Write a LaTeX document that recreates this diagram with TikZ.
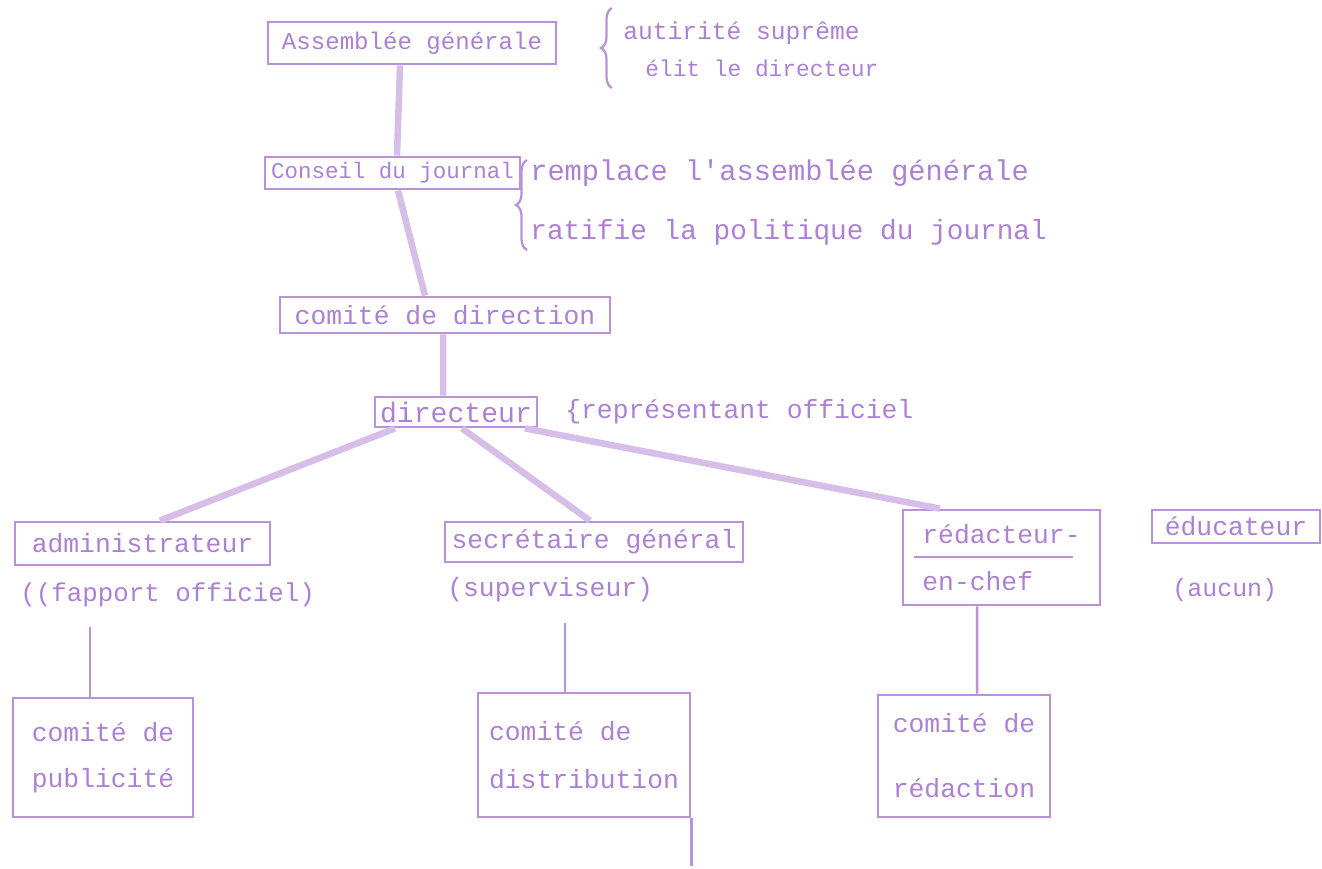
\documentclass[tikz,border=0pt]{standalone}
\usepackage{fontspec}
\setmonofont{Liberation Mono}
\usetikzlibrary{calc,decorations.pathreplacing}
\definecolor{ink}{RGB}{186,146,218}
\definecolor{inktext}{RGB}{172,128,210}
\tikzset{
  typed/.style={font=\fontsize{#1}{18pt}\selectfont\ttfamily},
  typed/.default=15pt,
  unit/.style={draw=ink, line width=0.55mm, text=inktext, typed, inner sep=0pt},
  remark/.style={text=inktext, typed, anchor=west, inner sep=0pt},
  link/.style={draw=ink!60, line width=1.3mm},
  thinlink/.style={draw=ink, line width=0.5mm},
  curly/.style={draw=ink, line width=0.45mm, decorate, decoration={brace, amplitude=2.2mm}},
}

\begin{document}
\begin{tikzpicture}[x=0.2mm, y=-0.2mm]
\useasboundingbox (0,0) rectangle (1322,869);

% organes
\node[unit, typed=13.7pt, minimum width=57.6mm, minimum height=8.4mm] (assemblee) at (412,43) {Assemblée générale};
\node[unit, typed=12.8pt, minimum width=51mm, minimum height=6.4mm] (conseil) at (392.5,173) {Conseil du journal};
\node[unit, minimum width=66mm, minimum height=7.2mm] (comitedir) at (445,315) {comité de direction};
\node[unit, typed=16pt, minimum width=32.4mm, minimum height=6mm] (directeur) at (456,412) {directeur};

\node[unit, minimum width=51mm, minimum height=8.6mm] (admin) at (142.5,543.5) {administrateur};
\node[unit, minimum width=59.6mm, minimum height=8mm] (secretaire) at (594,542) {secrétaire général};
\node[unit, align=left, minimum width=39.4mm, minimum height=19mm] (redacteur) at (1001.5,557.5) {rédacteur-\\[3.05mm]en-chef};
\node[unit, minimum width=33.6mm, minimum height=6.6mm] (educateur) at (1236,526.5) {éducateur};

\node[unit, align=left, minimum width=36mm, minimum height=23.8mm] (publicite) at (103,757.5) {comité de\\[2.85mm]publicité};
\node[unit, align=left, minimum width=42.4mm, minimum height=24.8mm] (distribution) at (584,755) {comité de\\[3.25mm]distribution};
\node[unit, align=left, minimum width=34.4mm, minimum height=24.4mm] (redaction) at (964,756) {comité de\\[6.65mm]rédaction};

% roles
\node[remark, typed=14.7pt] (adminrole) at (20,595) {((fapport officiel)};
\node[remark] (secretairerole) at (447,590) {(superviseur)};
\node[remark, typed=14.2pt] (educateurrole) at (1172,590) {(aucun)};

% remarques
\node[remark, typed=14pt] (supreme) at (623,33) {autirité suprême};
\node[remark, typed=13pt] (elit) at (645,68) {élit le directeur};
\node[remark, typed=16.3pt] (remplace) at (530,173) {remplace l'assemblée générale};
\node[remark, typed=15.8pt] (ratifie) at (530,232) {ratifie la politique du journal};
\node[remark] (officiel) at (565,412) {\{représentant officiel};

\coordinate (bracetopA) at (612,8);
\coordinate (bracebotA) at (612,88);
\coordinate (bracetopB) at (527,160);
\coordinate (bracebotB) at (527,250);
\draw[curly] (bracebotA) -- (bracetopA);
\draw[curly] (bracebotB) -- (bracetopB);

% liaisons
\path[link] ([xshift=-2.4mm]assemblee.south) -- ([xshift=0.9mm]conseil.north);
\path[link] ([xshift=1.1mm]conseil.south) -- ([xshift=-4mm]comitedir.north);
\path[link] ([xshift=-0.4mm]comitedir.south) -- ([xshift=-2.6mm]directeur.north);
\path[link] ([xshift=-12.2mm]directeur.south) -- ([xshift=3.5mm]admin.north);
\path[link] ([xshift=1.2mm]directeur.south) -- ([xshift=-0.8mm]secretaire.north);
\path[link] ([xshift=13.8mm]directeur.south) -- ([xshift=-12.3mm]redacteur.north);

\draw[thinlink, line width=0.4mm] ([xshift=2.4mm]redacteur.west) -- ([xshift=-5.6mm]redacteur.east);

\coordinate (pubtop) at ([xshift=-2.6mm]publicite.north);
\coordinate (disttop) at ([xshift=-3.8mm]distribution.north);
\coordinate (distend) at (689,866);
\draw[thinlink] ($(adminrole.south -| pubtop)+(0,20)$) -- (pubtop);
\draw[thinlink] ($(secretairerole.south -| disttop)+(0,20)$) -- (disttop);
\draw[thinlink] ([xshift=-4.9mm]redacteur.south) -- ([xshift=2.6mm]redaction.north);
\draw[thinlink] (distribution.south east) -- (distribution.south east |- distend);
\end{tikzpicture}
\end{document}
